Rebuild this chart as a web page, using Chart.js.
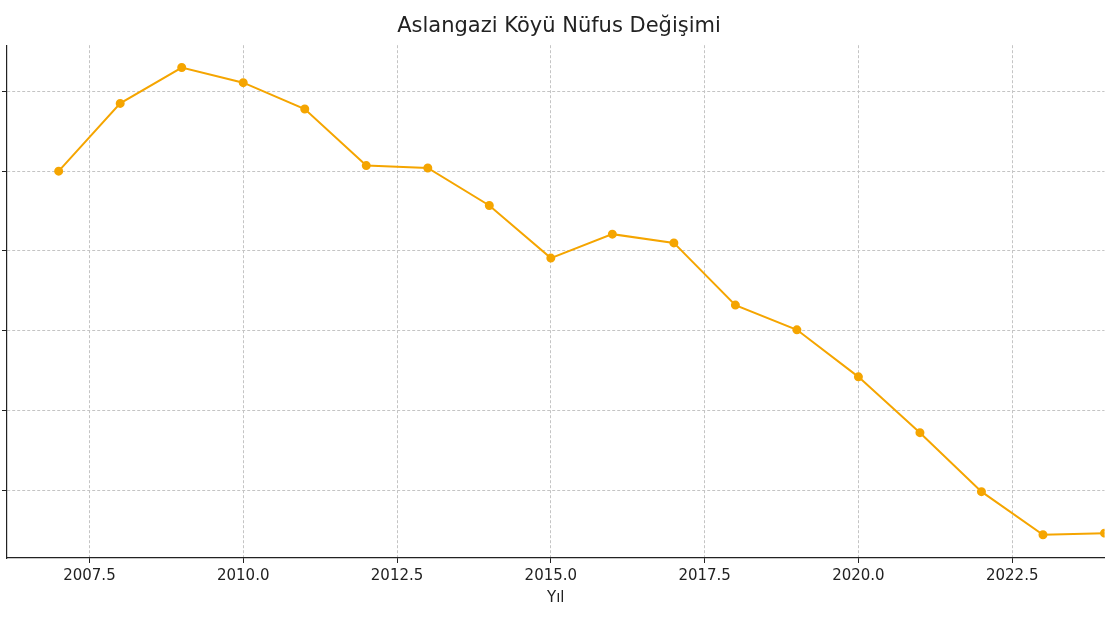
<!DOCTYPE html>
<html><head><meta charset="utf-8">
<script src="https://cdn.jsdelivr.net/npm/chart.js@4"></script>
<style>html,body{margin:0;background:#fff}#w{width:1110px;height:625px}</style>
</head><body><div id="w"><canvas id="c"></canvas></div>
<script>
const years=[2007,2008,2009,2010,2011,2012,2013,2014,2015,2016,2017,2018,2019,2020,2021,2022,2023,2024];
const population=[500,585,630,611,578,507,504,457,391,421,410,332,301,242,172,98,44,46];
const xTicks=[2007.5,2010,2012.5,2015,2017.5,2020,2022.5];
const yTicks=[100,200,300,400,500,600];
Chart.defaults.font.family='"DejaVu Sans"';
new Chart(document.getElementById('c'),{
type:'line',
data:{datasets:[{data:years.map((y,i)=>({x:y,y:population[i]})),borderColor:'#f5a500',backgroundColor:'#f5a500',borderWidth:2,pointRadius:3.5,pointHoverRadius:3.5,tension:0}]},
options:{responsive:true,maintainAspectRatio:false,animation:false,
layout:{padding:{left:2,right:-6,top:0,bottom:14}},
plugins:{legend:{display:false},tooltip:{enabled:false},
title:{display:true,text:'Aslangazi Köyü Nüfus Değişimi',color:'#222',font:{size:21,weight:'normal'},padding:{top:14,bottom:6}}},
scales:{
x:{type:'linear',min:2006.16,max:2024.0,
afterBuildTicks:a=>{a.ticks=xTicks.map(v=>({value:v}));},
ticks:{color:'#222',font:{size:15},callback:v=>v.toFixed(1),maxRotation:0,padding:4},
grid:{color:'#c4c4c4',tickColor:'#222',tickLength:5},
border:{color:'#222',width:1.2,dash:[3,2]},
title:{display:true,text:'Yıl',color:'#222',font:{size:15},padding:{top:0}}},
y:{min:14.8,max:658,
afterBuildTicks:a=>{a.ticks=yTicks.map(v=>({value:v}));},
ticks:{display:false},
grid:{color:'#c4c4c4',tickColor:'#222',tickLength:5},
border:{color:'#222',width:1.2,dash:[3,2]}}
}}
});
</script></body></html>
